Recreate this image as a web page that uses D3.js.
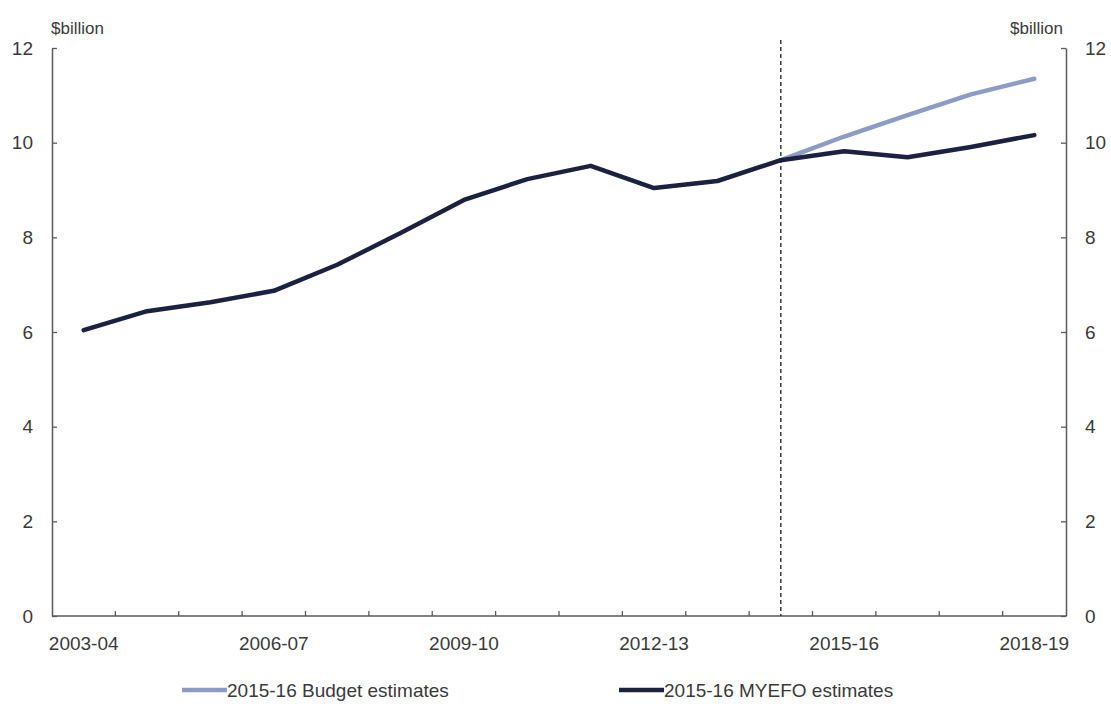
<!DOCTYPE html>
<html>
<head>
<meta charset="utf-8">
<script src="https://cdn.jsdelivr.net/npm/d3@7"></script>
<style>
  html, body { margin: 0; padding: 0; background: #ffffff; }
  svg { display: block; font-family: "Liberation Sans", Arial, sans-serif; }
</style>
</head>
<body>
<svg id="chart" width="1111" height="704"></svg>
<script>
// ---- data ----
const categories = ["2003-04","2004-05","2005-06","2006-07","2007-08","2008-09","2009-10","2010-11",
  "2011-12","2012-13","2013-14","2014-15","2015-16","2016-17","2017-18","2018-19"];
const xTickLabels = ["2003-04","2006-07","2009-10","2012-13","2015-16","2018-19"];
const myefoValues = [6.04, 6.44, 6.63, 6.87, 7.42, 8.09, 8.79, 9.23, 9.51, 9.04, 9.19, 9.63, 9.82, 9.69, 9.91, 10.16];
const budgetValues = [null, null, null, null, null, null, null, null, null, null, null, 9.63, 10.13, 10.58, 11.02, 11.35];
const yTicks = [0, 2, 4, 6, 8, 10, 12];
const seriesNames = ["2015-16 Budget estimates", "2015-16 MYEFO estimates"];
const dividerCategory = "2014-15";
const unitLabel = "$billion";

(function () {
// ---- layout ----
const svg = d3.select("#chart");
const pL = 52, pR = 1066, pT = 48, pB = 616;
const budgetColor = "#8c9cc6";
const myefoColor = "#1b2140";
const axisColor = "#5a5a5a";
const textColor = "#3a3a3a";

const x = d3.scaleBand().domain(categories).range([pL, pR]).padding(0);
const y = d3.scaleLinear().domain([0, 12]).range([pB, pT]);
const cx = c => x(c) + x.bandwidth() / 2;

// left axis
const gL = svg.append("g").attr("transform", `translate(${pL},0)`)
  .call(d3.axisLeft(y).tickValues(yTicks).tickSize(-5).tickSizeOuter(0).tickPadding(19).tickFormat(d3.format("d")));
// right axis
const gR = svg.append("g").attr("transform", `translate(${pR},0)`)
  .call(d3.axisRight(y).tickValues(yTicks).tickSize(-5).tickSizeOuter(0).tickPadding(19).tickFormat(d3.format("d")));
[gL, gR].forEach(g => {
  g.select(".domain").attr("stroke", axisColor).attr("stroke-width", 1.5);
  g.selectAll(".tick line").attr("stroke", axisColor).attr("stroke-width", 1.3);
  g.selectAll(".tick text").attr("fill", textColor).attr("font-size", 19)
    .attr("font-family", "'Liberation Sans', Arial, sans-serif");
});

// bottom axis line and ticks at band boundaries
const boundaries = categories.map(c => x(c)).slice(1);
svg.append("line").attr("x1", pL).attr("x2", pR).attr("y1", pB).attr("y2", pB)
  .attr("stroke", axisColor).attr("stroke-width", 1.5);
svg.append("g").selectAll("line").data(boundaries).join("line")
  .attr("x1", d => d).attr("x2", d => d).attr("y1", pB).attr("y2", pB - 5)
  .attr("stroke", axisColor).attr("stroke-width", 1.3);
svg.append("g").selectAll("text").data(xTickLabels).join("text")
  .attr("x", d => cx(d)).attr("y", 650).attr("text-anchor", "middle")
  .attr("font-size", 19).attr("fill", textColor).text(d => d);

// unit labels
svg.append("text").attr("x", pL - 1).attr("y", 34).attr("font-size", 17).attr("fill", textColor).text(unitLabel);
svg.append("text").attr("x", pR - 3).attr("y", 34).attr("text-anchor", "end").attr("font-size", 17).attr("fill", textColor).text(unitLabel);

// divider
svg.append("line").attr("x1", cx(dividerCategory)).attr("x2", cx(dividerCategory))
  .attr("y1", 40).attr("y2", pB)
  .attr("stroke", "#2a2a2a").attr("stroke-width", 1.4).attr("stroke-dasharray", "4,3");

// lines
const line = d3.line().defined(d => d.v !== null).x(d => cx(d.c)).y(d => y(d.v));
svg.append("path").datum(categories.map((c, i) => ({c, v: budgetValues[i]})))
  .attr("d", line).attr("fill", "none").attr("stroke", budgetColor).attr("stroke-width", 4.5)
  .attr("stroke-linejoin", "round").attr("stroke-linecap", "round");
svg.append("path").datum(categories.map((c, i) => ({c, v: myefoValues[i]})))
  .attr("d", line).attr("fill", "none").attr("stroke", myefoColor).attr("stroke-width", 4.5)
  .attr("stroke-linejoin", "round").attr("stroke-linecap", "round");

// legend
const legend = [
  {name: seriesNames[0], color: budgetColor, x0: 182},
  {name: seriesNames[1], color: myefoColor, x0: 619}
];
const lg = svg.append("g").selectAll("g").data(legend).join("g");
lg.append("line").attr("x1", d => d.x0).attr("x2", d => d.x0 + 45).attr("y1", 690).attr("y2", 690)
  .attr("stroke", d => d.color).attr("stroke-width", 4.5);
lg.append("text").attr("x", d => d.x0 + 45).attr("y", 697).attr("font-size", 19).attr("fill", textColor)
  .text(d => d.name);
})();
</script>
</body>
</html>
